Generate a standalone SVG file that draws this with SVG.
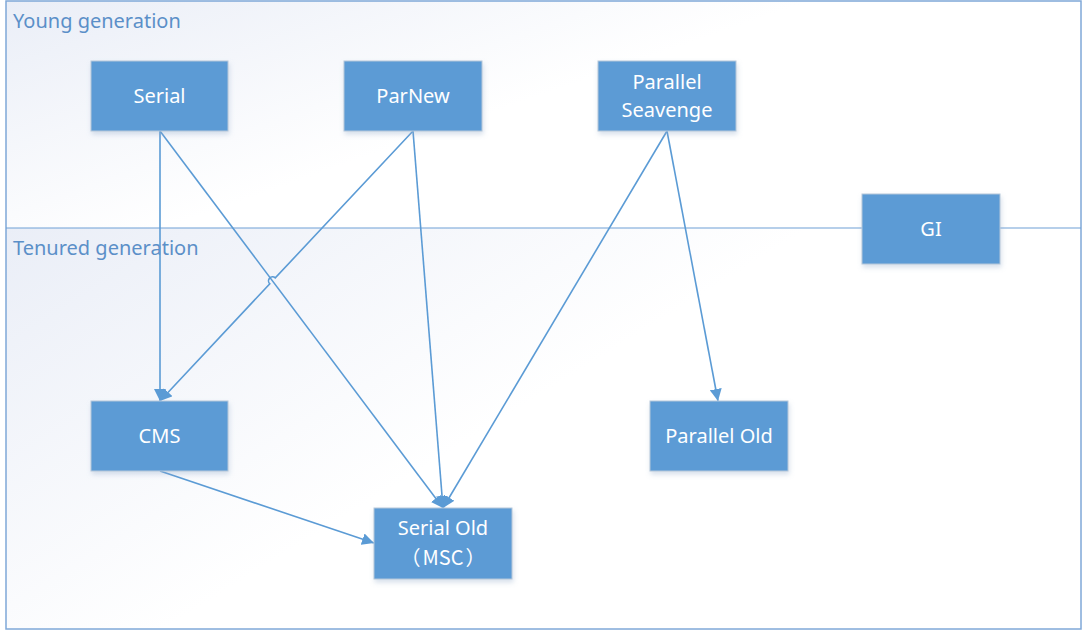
<svg xmlns="http://www.w3.org/2000/svg" width="1083" height="630" viewBox="0 0 1083 630">
  <style>
    .band-label { font-family: "Noto Sans", "Open Sans", sans-serif; font-size: 20px; fill: #5b8fc8; }
    .node rect { fill: #5b9bd5; stroke: #b6c7da; stroke-width: 1; filter: url(#shadow); }
    .node text { font-family: "Noto Sans", "Open Sans", "Noto Sans CJK SC", sans-serif; font-size: 20px; fill: #ffffff; text-anchor: middle; }
    .node text.cjk { font-family: "Noto Sans CJK SC", "Noto Sans", sans-serif; }
    .edge { fill: none; stroke: #5b9bd5; stroke-width: 1.6; marker-end: url(#arrow); }
  </style>
  <defs>
    <linearGradient id="bandFill" x1="0" y1="0" x2="1" y2="0.6">
      <stop offset="0" stop-color="#eaeef7"/>
      <stop offset="0.55" stop-color="#ffffff"/>
      <stop offset="1" stop-color="#ffffff"/>
    </linearGradient>
    <filter id="shadow" x="-10%" y="-10%" width="125%" height="130%">
      <feDropShadow dx="1" dy="3" stdDeviation="2.5" flood-color="#8aa6c8" flood-opacity="0.35"/>
    </filter>
    <marker id="arrow" viewBox="0 0 10 10" refX="10" refY="5" markerWidth="12" markerHeight="12" markerUnits="userSpaceOnUse" orient="auto">
      <path d="M0,0 L10,5 L0,10 z" fill="#5b9bd5"/>
    </marker>
  </defs>

  <!-- generation bands -->
  <g id="bands">
    <rect x="6" y="1" width="1075" height="227" fill="url(#bandFill)"/>
    <rect x="6" y="228" width="1075" height="401" fill="url(#bandFill)"/>
    <rect x="6" y="1" width="1075" height="628" fill="none" stroke="#7fa8d8" stroke-width="1.5"/>
    <line x1="6" y1="228" x2="1081" y2="228" stroke="#6f9fd5" stroke-width="1.2"/>
    <text class="band-label" x="13" y="28">Young generation</text>
    <text class="band-label" x="13" y="255">Tenured generation</text>
  </g>

  <!-- connectors -->
  <g id="connectors">
    <path class="edge" d="M160,131 L160,401"/>
    <path class="edge" d="M160,131 L443,508"/>
    <path class="edge" d="M413,131 L275.3,277.9 A4,4 0 0 0 269.8,283.8 L160,401"/>
    <path class="edge" d="M413,131 L443,508"/>
    <path class="edge" d="M667,131 L443,508"/>
    <path class="edge" d="M667,131 L718,401"/>
    <path class="edge" d="M160,471 L374,543"/>
  </g>

  <!-- young generation collectors -->
  <g id="serial" class="node">
    <rect x="91" y="61" width="137" height="70"/>
    <text x="159.5" y="103">Serial</text>
  </g>
  <g id="parnew" class="node">
    <rect x="344" y="61" width="138" height="70"/>
    <text x="413" y="103">ParNew</text>
  </g>
  <g id="parallel-seavenge" class="node">
    <rect x="598" y="61" width="138" height="70"/>
    <text x="667" y="89">Parallel</text>
    <text x="667" y="117">Seavenge</text>
  </g>
  <g id="gi" class="node">
    <rect x="862" y="194" width="138" height="70"/>
    <text x="931" y="236">GI</text>
  </g>

  <!-- tenured generation collectors -->
  <g id="cms" class="node">
    <rect x="91" y="401" width="137" height="70"/>
    <text x="159.5" y="443">CMS</text>
  </g>
  <g id="parallel-old" class="node">
    <rect x="650" y="401" width="138" height="70"/>
    <text x="719" y="443">Parallel Old</text>
  </g>
  <g id="serial-old" class="node">
    <rect x="374" y="508" width="138" height="71"/>
    <text x="443" y="535">Serial Old</text>
    <text class="cjk" x="443" y="565"><tspan>（</tspan><tspan dx="2">MSC</tspan><tspan dx="2">）</tspan></text>
  </g>
</svg>
